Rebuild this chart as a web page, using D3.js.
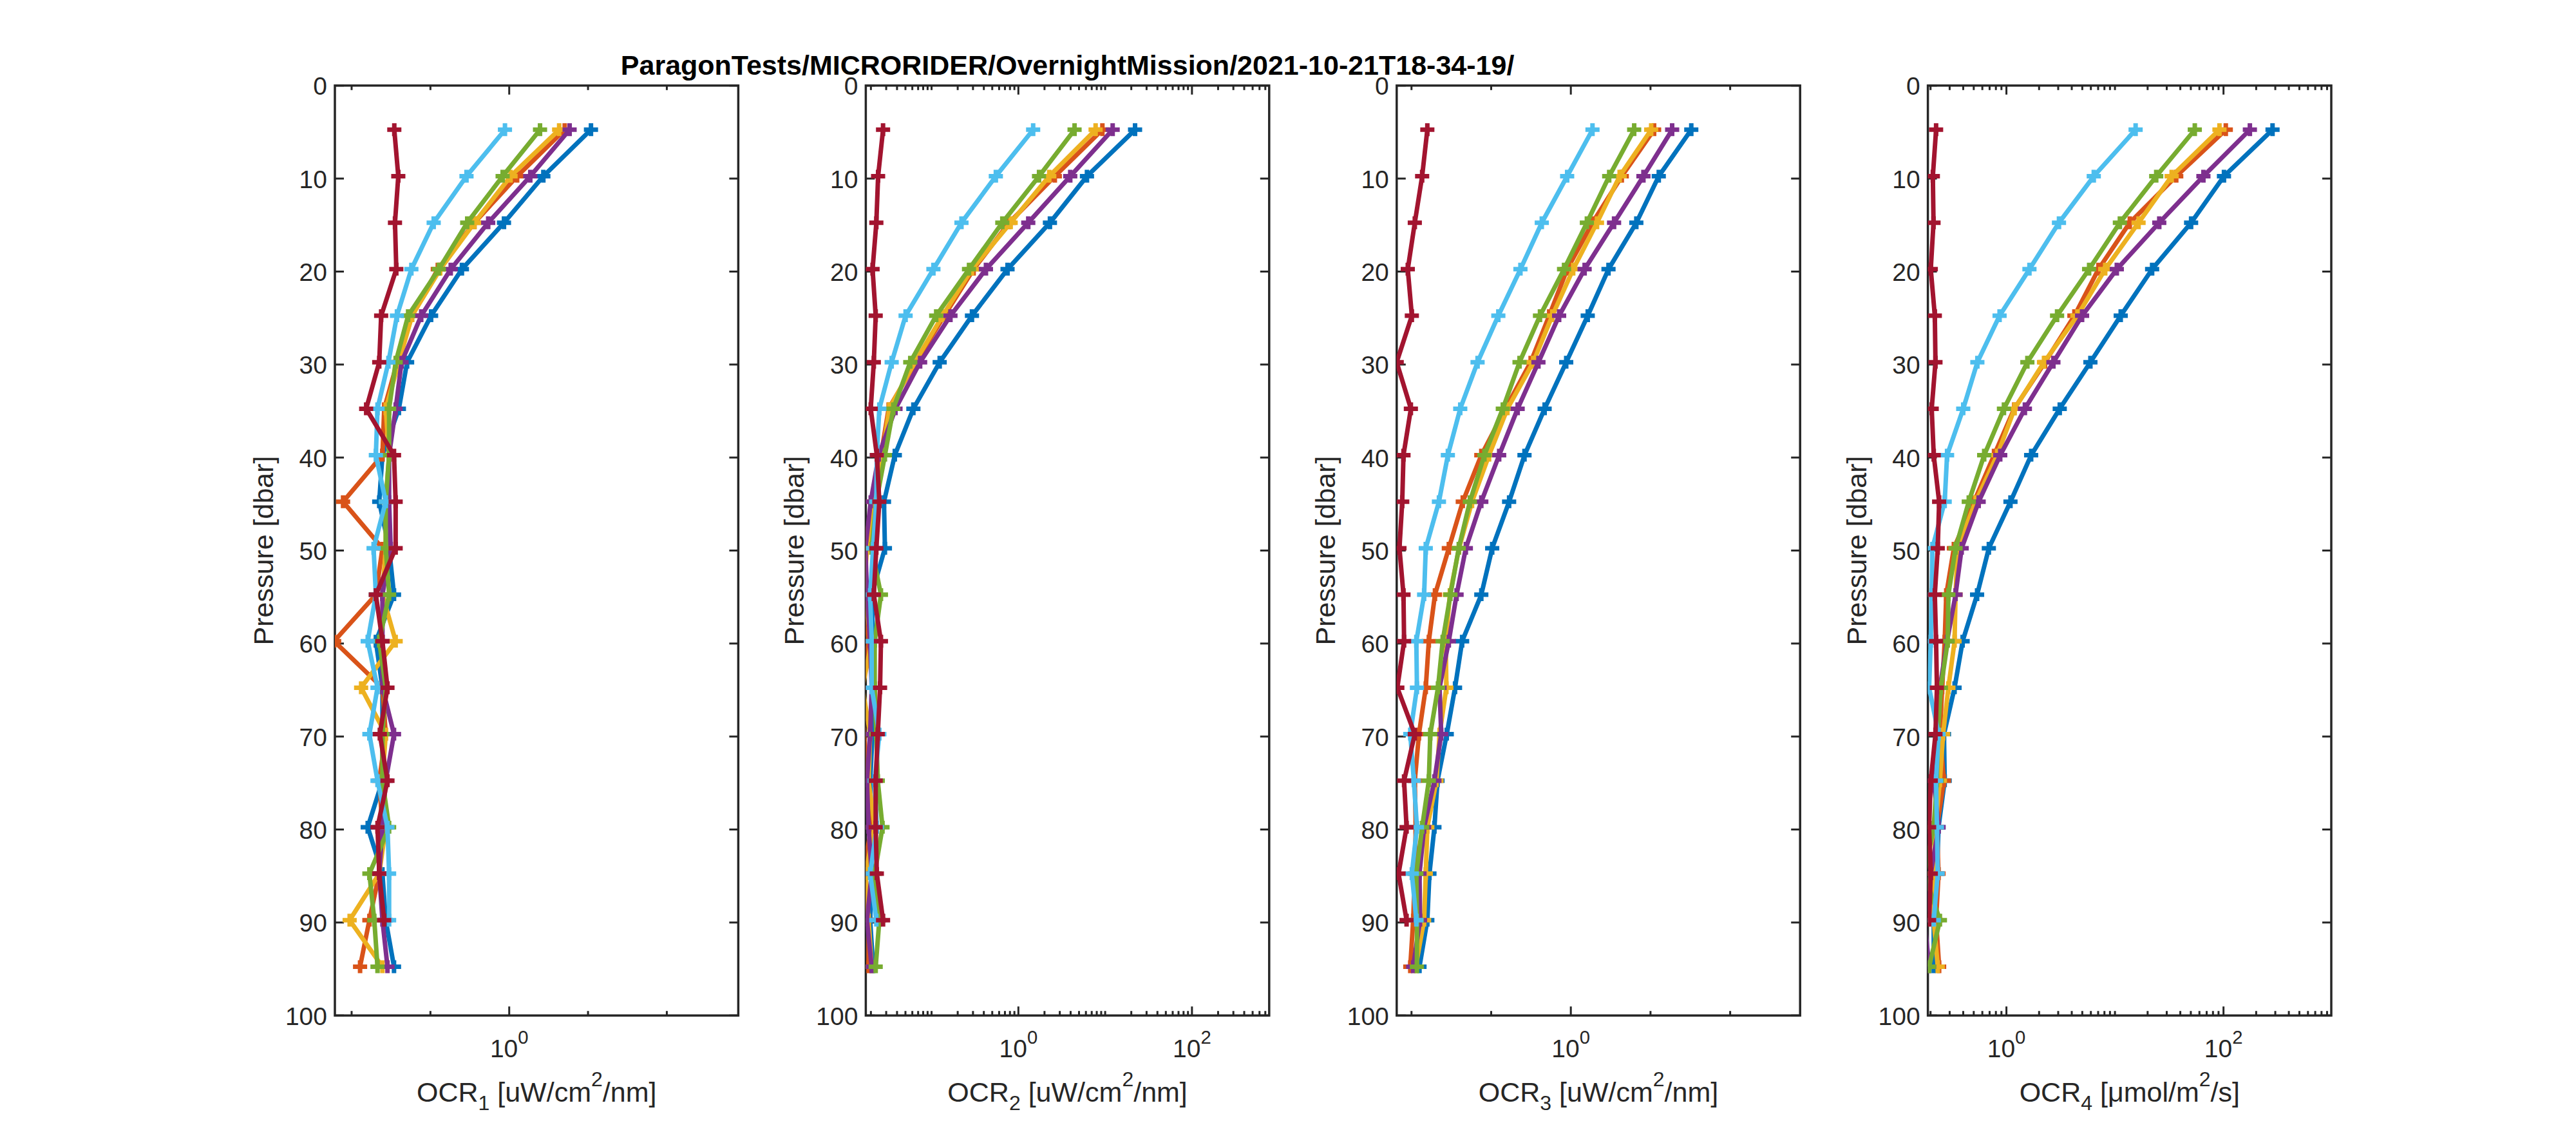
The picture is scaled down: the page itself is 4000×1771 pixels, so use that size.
<!DOCTYPE html>
<html>
<head>
<meta charset="utf-8">
<script src="https://cdn.jsdelivr.net/npm/d3@7"></script>
<style>
  body { margin: 0; background: #fff; }
  svg text { font-family: "Liberation Sans", Arial, Helvetica, sans-serif; }
</style>
</head>
<body>
<svg id="fig" width="4000" height="1771"></svg>
<script>
// pressure levels (dbar) of the profile bins
var pressure = [4.75, 9.75, 14.75, 19.75, 24.75, 29.75, 34.75, 39.75, 44.75, 49.75,
                54.75, 59.75, 64.75, 69.75, 74.75, 79.75, 84.75, 89.75, 94.75];

// series order: blue, orange, yellow, purple, green, light blue, dark red
var seriesColors = ["#0072BD", "#D95319", "#EDB120", "#7E2F8E", "#77AC30", "#4DBEEE", "#A2142F"];

var ocr1 = [
  [10.9, 2.71, 0.858, 0.251, 0.102, 0.0506, 0.0398, 0.0246, 0.0224, 0.0299, 0.0345, 0.0203, 0.0246, 0.0246, 0.0246, 0.0160, 0.0246, 0.0271, 0.0345],
  [5.06, 1.26, 0.362, 0.124, 0.0584, 0.0379, 0.0259, 0.0246, 0.00779, 0.0246, 0.0203, 0.0060, 0.0246, 0.0271, 0.0224, 0.0246, 0.0224, 0.0168, 0.0128],
  [4.30, 1.04, 0.362, 0.133, 0.0584, 0.0398, 0.0271, 0.0299, 0.0271, 0.0271, 0.0246, 0.0362, 0.0132, 0.0271, 0.0246, 0.0271, 0.0224, 0.00944, 0.0246],
  [5.84, 1.85, 0.541, 0.181, 0.0764, 0.0430, 0.0362, 0.0299, 0.0299, 0.0313, 0.0246, 0.0246, 0.0246, 0.0345, 0.0271, 0.0246, 0.0224, 0.0246, 0.0285],
  [2.46, 0.825, 0.293, 0.128, 0.0521, 0.0362, 0.0299, 0.0299, 0.0271, 0.0271, 0.0299, 0.0224, 0.0271, 0.0246, 0.0246, 0.0299, 0.0168, 0.0194, 0.0213],
  [0.883, 0.287, 0.110, 0.0573, 0.0376, 0.0293, 0.0213, 0.0203, 0.0271, 0.0190, 0.0203, 0.0160, 0.0213, 0.0168, 0.0213, 0.0285, 0.0299, 0.0299],
  [0.0348, 0.0391, 0.0355, 0.0369, 0.0237, 0.0224, 0.0153, 0.0345, 0.0362, 0.0362, 0.0203, 0.0246, 0.0285, 0.0228, 0.0285, 0.0213, 0.0224, 0.0259]
];

var ocr2 = [
  [22.1, 6.17, 2.31, 0.750, 0.292, 0.124, 0.0617, 0.0377, 0.0283, 0.0290, 0.0204, 0.0212, 0.0212, 0.0209, 0.0196, 0.0204, 0.0204, 0.0196, 0.0212],
  [9.29, 2.63, 0.782, 0.305, 0.140, 0.0659, 0.0320, 0.0261, 0.0212, 0.0166, 0.0166, 0.0188, 0.0160, 0.0166, 0.0188, 0.0204, 0.0160, 0.0188, 0.0188],
  [7.76, 2.27, 0.815, 0.292, 0.134, 0.0643, 0.0325, 0.0272, 0.0221, 0.0180, 0.0166, 0.0204, 0.0160, 0.0196, 0.0188, 0.0221, 0.0173, 0.0188, 0.0204],
  [12.2, 3.96, 1.30, 0.423, 0.165, 0.0738, 0.0384, 0.0246, 0.0199, 0.0173, 0.0180, 0.0196, 0.0204, 0.0196, 0.0180, 0.0188, 0.0204, 0.0180, 0.0204],
  [4.44, 1.73, 0.653, 0.270, 0.113, 0.0568, 0.0362, 0.0290, 0.0231, 0.0204, 0.0261, 0.0221, 0.0221, 0.0231, 0.0240, 0.0272, 0.0221, 0.0250, 0.0227],
  [1.48, 0.550, 0.221, 0.105, 0.0502, 0.0347, 0.0250, 0.0234, 0.0231, 0.0212, 0.0196, 0.0204, 0.0204, 0.0250, 0.0221, 0.0234, 0.0196, 0.0231],
  [0.0276, 0.0242, 0.0231, 0.0209, 0.0227, 0.0216, 0.0199, 0.0234, 0.0250, 0.0231, 0.0216, 0.0261, 0.0255, 0.0240, 0.0227, 0.0227, 0.0234, 0.0276]
];

var ocr3 = [
  [32.5, 12.7, 6.64, 2.97, 1.63, 0.875, 0.469, 0.262, 0.168, 0.103, 0.0752, 0.0432, 0.0352, 0.0277, 0.0212, 0.0194, 0.0168, 0.0158, 0.0126],
  [11.1, 4.36, 1.87, 0.899, 0.535, 0.313, 0.151, 0.0752, 0.0440, 0.0294, 0.0197, 0.0165, 0.0151, 0.0124, 0.0110, 0.0113, 0.0110, 0.0105, 0.00965],
  [10.2, 4.10, 2.13, 1.07, 0.585, 0.337, 0.160, 0.0940, 0.0575, 0.0395, 0.0303, 0.0269, 0.0274, 0.0225, 0.0206, 0.0158, 0.0151, 0.0144, 0.0113],
  [18.7, 8.15, 3.49, 1.49, 0.713, 0.392, 0.215, 0.126, 0.0752, 0.0481, 0.0368, 0.0294, 0.0225, 0.0236, 0.0194, 0.0144, 0.0126, 0.0128, 0.0105],
  [6.24, 3.03, 1.59, 0.822, 0.410, 0.227, 0.140, 0.0822, 0.0540, 0.0392, 0.0308, 0.0246, 0.0215, 0.0172, 0.0165, 0.0136, 0.0115, 0.0117, 0.0117],
  [1.87, 0.899, 0.432, 0.233, 0.123, 0.0675, 0.0409, 0.0286, 0.0221, 0.0151, 0.0144, 0.0115, 0.0117, 0.00965, 0.0107, 0.0117, 0.0101, 0.0115],
  [0.0158, 0.0136, 0.0110, 0.00898, 0.0101, 0.00652, 0.00982, 0.00793, 0.00765, 0.00706, 0.00793, 0.00807, 0.00664, 0.0110, 0.00807, 0.00867, 0.00688, 0.00867]
];

var ocr4 = [
  [283, 101, 50.3, 22.0, 11.3, 5.94, 3.10, 1.69, 1.09, 0.689, 0.537, 0.395, 0.333, 0.266, 0.270, 0.237, 0.229, 0.214, 0.214],
  [105, 36.7, 13.7, 7.05, 4.23, 2.27, 1.18, 0.769, 0.503, 0.328, 0.279, 0.270, 0.256, 0.244, 0.266, 0.229, 0.237, 0.225, 0.240],
  [91.8, 33.3, 16.5, 8.13, 4.51, 2.22, 1.19, 0.822, 0.520, 0.355, 0.340, 0.333, 0.292, 0.261, 0.244, 0.222, 0.214, 0.214, 0.233],
  [175, 65.3, 25.6, 10.4, 4.98, 2.71, 1.48, 0.877, 0.555, 0.387, 0.340, 0.284, 0.244, 0.229, 0.214, 0.237, 0.201, 0.176, 0.194],
  [54.4, 24.0, 11.1, 5.78, 2.93, 1.56, 0.949, 0.624, 0.450, 0.340, 0.292, 0.288, 0.249, 0.233, 0.229, 0.214, 0.176, 0.244, 0.194],
  [15.5, 6.38, 3.05, 1.63, 0.865, 0.540, 0.400, 0.284, 0.270, 0.208, 0.205, 0.201, 0.194, 0.237, 0.225, 0.229, 0.233, 0.214],
  [0.225, 0.210, 0.213, 0.201, 0.219, 0.222, 0.205, 0.214, 0.240, 0.233, 0.219, 0.225, 0.229, 0.222, 0.201, 0.194, 0.201, 0.194]
];

var panelData = [ocr1, ocr2, ocr3, ocr4];
var xDomains = [[0.00613, 807], [0.01746, 776], [0.00652, 755], [0.189, 984]];
var majorTicks = [[1], [1, 100], [1], [1, 100]];
var minorStyle = ["decade", "full", "decade", "full"];
var yTicks = [0, 10, 20, 30, 40, 50, 60, 70, 80, 90, 100];
var xLabelIndex = ["1", "2", "3", "4"];
var xLabelUnits = [["[uW/cm", "/nm]"], ["[uW/cm", "/nm]"], ["[uW/cm", "/nm]"], ["[\u03bcmol/m", "/s]"]];
var titleText = "ParagonTests/MICRORIDER/OvernightMission/2021-10-21T18-34-19/";

var svg = d3.select("#fig");
var axisColor = "#262626";
var lefts = [520, 1344.4, 2168.8, 2993.6];
var pw = 626.4, plotTop = 132.8, plotBottom = 1576.2;
var tickFont = 39, labelFont = 43;

var y = d3.scaleLinear().domain([0, 100]).range([plotTop, plotBottom]);

panelData.forEach(function(series, pi) {
  var left = lefts[pi];
  var x = d3.scaleLog().domain(xDomains[pi]).range([left, left + pw]);
  var g = svg.append("g");

  // minor ticks
  var lo = Math.floor(Math.log10(xDomains[pi][0])), hi = Math.ceil(Math.log10(xDomains[pi][1]));
  var minors = [];
  for (var e = lo; e <= hi; e++) {
    var ks = minorStyle[pi] === "full" ? [1,2,3,4,5,6,7,8,9] : [1];
    ks.forEach(function(k) {
      var v = k * Math.pow(10, e);
      if (v > xDomains[pi][0] && v < xDomains[pi][1] && majorTicks[pi].indexOf(v) < 0) minors.push(v);
    });
  }
  minors.forEach(function(v) {
    g.append("line").attr("x1", x(v)).attr("x2", x(v)).attr("y1", plotBottom).attr("y2", plotBottom - 7)
      .attr("stroke", axisColor).attr("stroke-width", 3);
    g.append("line").attr("x1", x(v)).attr("x2", x(v)).attr("y1", plotTop).attr("y2", plotTop + 7)
      .attr("stroke", axisColor).attr("stroke-width", 3);
  });
  majorTicks[pi].forEach(function(v) {
    g.append("line").attr("x1", x(v)).attr("x2", x(v)).attr("y1", plotBottom).attr("y2", plotBottom - 14)
      .attr("stroke", axisColor).attr("stroke-width", 3);
    g.append("line").attr("x1", x(v)).attr("x2", x(v)).attr("y1", plotTop).attr("y2", plotTop + 14)
      .attr("stroke", axisColor).attr("stroke-width", 3);
    var t = g.append("text").attr("x", x(v)).attr("y", plotBottom + 65)
      .attr("text-anchor", "middle").attr("font-size", tickFont).attr("fill", axisColor);
    t.append("tspan").text("10");
    t.append("tspan").attr("font-size", tickFont * 0.75).attr("dy", -21).text(String(Math.round(Math.log10(v))));
  });

  yTicks.forEach(function(v) {
    g.append("line").attr("x1", left).attr("x2", left + 14).attr("y1", y(v)).attr("y2", y(v))
      .attr("stroke", axisColor).attr("stroke-width", 3);
    g.append("line").attr("x1", left + pw).attr("x2", left + pw - 14).attr("y1", y(v)).attr("y2", y(v))
      .attr("stroke", axisColor).attr("stroke-width", 3);
    g.append("text").attr("x", left - 12).attr("y", y(v) + 14.5)
      .attr("text-anchor", "end").attr("font-size", tickFont).attr("fill", axisColor).text(v);
  });

  g.append("rect").attr("x", left).attr("y", plotTop).attr("width", pw).attr("height", plotBottom - plotTop)
    .attr("fill", "none").attr("stroke", axisColor).attr("stroke-width", 3.5);

  // data
  var clipId = "clip" + pi;
  svg.append("clipPath").attr("id", clipId).append("rect")
    .attr("x", left).attr("y", plotTop).attr("width", pw).attr("height", plotBottom - plotTop);
  var dg = g.append("g").attr("clip-path", "url(#" + clipId + ")");

  var line = d3.line().x(function(d) { return x(d[0]); }).y(function(d) { return y(d[1]); });

  series.forEach(function(vals, si) {
    var pts = vals.map(function(v, i) { return [v, pressure[i]]; });
    dg.append("path").attr("d", line(pts)).attr("fill", "none")
      .attr("stroke", seriesColors[si]).attr("stroke-width", 7).attr("stroke-linejoin", "round");
    dg.selectAll(null).data(pts).enter().append("path")
      .attr("transform", function(d) { return "translate(" + x(d[0]) + "," + y(d[1]) + ")"; })
      .attr("d", "M-11,0H11M0,-10V10")
      .attr("stroke", seriesColors[si]).attr("stroke-width", 7).attr("fill", "none");
  });

  // axis labels
  g.append("text").attr("transform", "translate(" + (left - 96) + "," + ((plotTop + plotBottom) / 2) + ") rotate(-90)")
    .attr("text-anchor", "middle").attr("font-size", labelFont).attr("fill", axisColor).text("Pressure [dbar]");

  var xl = g.append("text").attr("x", left + pw / 2).attr("y", 1710)
    .attr("text-anchor", "middle").attr("font-size", labelFont).attr("fill", axisColor);
  xl.append("tspan").text("OCR");
  xl.append("tspan").attr("font-size", 32).attr("dy", 13).text(xLabelIndex[pi]);
  xl.append("tspan").attr("dy", -13).text(" " + xLabelUnits[pi][0]);
  xl.append("tspan").attr("font-size", 32).attr("dy", -24).text("2");
  xl.append("tspan").attr("dy", 24).text(xLabelUnits[pi][1]);

  if (pi === 1) {
    svg.append("text").attr("x", left + pw / 2).attr("y", 116)
      .attr("text-anchor", "middle").attr("font-size", 43).attr("font-weight", "bold")
      .attr("fill", "#000").text(titleText);
  }
});
</script>
</body>
</html>
